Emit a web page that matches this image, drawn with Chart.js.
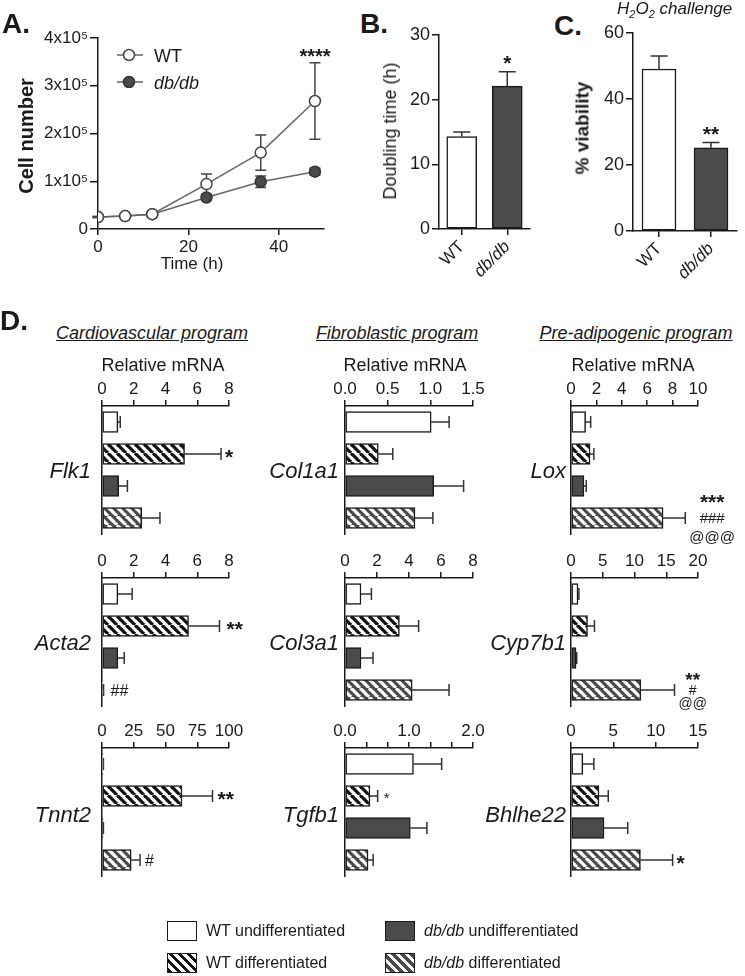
<!DOCTYPE html>
<html>
<head>
<meta charset="utf-8">
<script src="https://cdn.jsdelivr.net/npm/chart.js@4.4.1/dist/chart.umd.min.js"></script>
<style>
  body { margin: 0; background: #fff; }
  #fig { position: relative; width: 745px; height: 976px; overflow: hidden;
         font-family: "Liberation Sans", Arial, sans-serif; color: #1a1a1a; }
  #fig canvas { position: absolute; }
  .t { position: absolute; white-space: nowrap; line-height: 1; }
  .sw { position: absolute; width: 28px; height: 18px; border: 1.5px solid #1a1a1a; }
</style>
</head>
<body>
<div id="fig"></div>
<script>
// Panel A - growth curve
const timeH = [0, 6, 12, 24, 36, 48];
const wtCells = [25000, 27000, 31000, 94000, 160000, 268000];
const wtCellsSem = [1000, 1000, 1000, 21000, 37000, 80000];
const dbCells = [25000, 27000, 31000, 66000, 99000, 120000];
const dbCellsSem = [1000, 1000, 1000, 5000, 12000, 7000];
const wtCellsMarks = [[], [], [], [], [], ['****']];
const timeTicks = [0, 20, 40];
const cellTicks = [0, 100000, 200000, 300000, 400000];
const cellTickLabels = ['0', '1x10⁵', '2x10⁵', '3x10⁵', '4x10⁵'];

// Panel B / C
const genotypes = ['WT', 'db/db'];
const doublingTime = [14.3, 22.1];
const doublingSem = [0.7, 2.2];
const doublingMarks = [[], ['*']];
const doublingTicks = [0, 10, 20, 30];
const viability = [49.1, 25.2];
const viabilitySem = [3.9, 1.6];
const viabilityMarks = [[], ['**']];
const viabilityTicks = [0, 20, 40, 60];

// Panel D - relative mRNA, order = conditions
const conditions = ['WT undifferentiated', 'WT differentiated', 'db/db undifferentiated', 'db/db differentiated'];
const flk1 = [1.0, 5.2, 1.05, 2.5];      const flk1Sem = [0.15, 2.3, 0.55, 1.15];
const acta2 = [1.0, 5.45, 1.0, 0.05];    const acta2Sem = [0.9, 1.95, 0.4, 0.05];
const tnnt2 = [0.8, 63, 0.8, 23];        const tnnt2Sem = [0.3, 24, 0.3, 7];
const col1a1 = [1.01, 0.39, 1.04, 0.82]; const col1a1Sem = [0.21, 0.17, 0.35, 0.21];
const col3a1 = [1.0, 3.4, 1.0, 4.2];     const col3a1Sem = [0.65, 1.2, 0.75, 2.3];
const tgfb1 = [1.07, 0.39, 1.02, 0.36];  const tgfb1Sem = [0.44, 0.12, 0.26, 0.08];
const lox = [1.15, 1.5, 1.02, 7.25];     const loxSem = [0.4, 0.3, 0.18, 1.75];
const cyp7b1 = [1.1, 2.6, 0.8, 11.0];    const cyp7b1Sem = [0.15, 1.1, 0.1, 5.3];
const bhlhe22 = [1.4, 3.3, 3.9, 8.2];    const bhlhe22Sem = [1.3, 1.1, 2.8, 3.8];

const flk1Marks = [[], ['*'], [], []];
const acta2Marks = [[], ['**'], [], ['##']];
const tnnt2Marks = [[], ['**'], [], ['#']];
const tgfb1Marks = [[], ['*'], [], []];
const loxMarks = [[], [], [], ['***', '###', '@@@']];
const cyp7b1Marks = [[], [], [], ['**', '#', '@@']];
const bhlhe22Marks = [[], [], [], ['*']];
const noMarks = [[], [], [], []];

const cardioTicks = [0, 2, 4, 6, 8];
const cardioTickLabels = ['0', '2', '4', '6', '8'];
const tnnt2Ticks = [0, 25, 50, 75, 100];
const tnnt2TickLabels = ['0', '25', '50', '75', '100'];
const col1a1Ticks = [0, 0.5, 1, 1.5];
const col1a1TickLabels = ['0.0', '0.5', '1.0', '1.5'];
const tgfb1Ticks = [0, 1 / 3, 2 / 3, 1, 4 / 3, 5 / 3, 2];
const tgfb1TickLabels = ['0.0', '', '', '1.0', '', '', '2.0'];
const loxTicks = [0, 2, 4, 6, 8, 10];
const loxTickLabels = ['0', '2', '4', '6', '8', '10'];
const cyp7b1Ticks = [0, 5, 10, 15, 20];
const cyp7b1TickLabels = ['0', '5', '10', '15', '20'];
const bhlhe22Ticks = [0, 5, 10, 15];
const bhlhe22TickLabels = ['0', '5', '10', '15'];


const NARROW = '"Liberation Sans Narrow", "Liberation Sans", Arial, sans-serif';
const SANS = '"Liberation Sans", Arial, sans-serif';
const INK = '#1a1a1a';
const DARK = '#4b4b4b';
const fig = document.getElementById('fig');
Chart.defaults.font.family = SANS;
Chart.defaults.color = INK;

function addCanvas(left, top, w, h) {
    const c = document.createElement('canvas');
    c.width = w; c.height = h;
    c.style.left = left + 'px'; c.style.top = top + 'px';
    c.style.width = w + 'px'; c.style.height = h + 'px';
    fig.appendChild(c);
    return c;
}

// anchor: 'c' centre, 'r' right edge, 'l' left edge (all vertically centred)
function text(html, x, y, css, anchor, rot) {
    const d = document.createElement('div');
    d.className = 't';
    d.innerHTML = html;
    d.style.cssText += css || '';
    d.style.left = x + 'px'; d.style.top = y + 'px';
    const tx = anchor === 'r' ? '-100%' : anchor === 'l' ? '0' : '-50%';
    d.style.transform = 'translate(' + tx + ',-50%)' + (rot ? ' rotate(' + rot + 'deg)' : '');
    fig.appendChild(d);
    return d;
}

function hatch(bg, fg) {
    const p = 9, c = document.createElement('canvas');
    c.width = p; c.height = p;
    const g = c.getContext('2d');
    g.fillStyle = bg; g.fillRect(0, 0, p, p);
    g.strokeStyle = fg; g.lineWidth = 3.3;
    [-p, 0, p].forEach(k => { g.beginPath(); g.moveTo(k, 0); g.lineTo(k + p, p); g.stroke(); });
    return g.createPattern(c, 'repeat');
}
const barFills = ['#ffffff', hatch('#ffffff', '#111111'), DARK, hatch(DARK, '#ffffff')];

// error bars (upper side only unless opts.both)
const errorBars = {
    id: 'errorBars',
    beforeDatasetsDraw(chart, args, opts) {
        const ctx = chart.ctx, horiz = chart.options.indexAxis === 'y';
        const vScale = horiz ? chart.scales.x : chart.scales.y;
        chart.data.datasets.forEach((ds, di) => {
            if (!ds.sem) return;
            const meta = chart.getDatasetMeta(di);
            ctx.save();
            ctx.strokeStyle = opts.color || '#333';
            ctx.lineWidth = opts.width || 1.5;
            meta.data.forEach((el, i) => {
                const d = ds.data[i], v = typeof d === 'object' ? d.y : d, e = ds.sem[i];
                const hi = vScale.getPixelForValue(v + e);
                const lo = vScale.getPixelForValue(opts.both ? v - e : v);
                const c = opts.cap / 2;
                ctx.beginPath();
                if (horiz) {
                    ctx.moveTo(lo, el.y); ctx.lineTo(hi, el.y);
                    ctx.moveTo(hi, el.y - c); ctx.lineTo(hi, el.y + c);
                } else {
                    ctx.moveTo(el.x, lo); ctx.lineTo(el.x, hi);
                    ctx.moveTo(el.x - c, hi); ctx.lineTo(el.x + c, hi);
                    if (opts.both) { ctx.moveTo(el.x - c, lo); ctx.lineTo(el.x + c, lo); }
                }
                ctx.stroke();
            });
            ctx.restore();
        });
    }
};

// significance symbols next to / above the error bars
const sigMarks = {
    id: 'sigMarks',
    afterDatasetsDraw(chart, args, opts) {
        const ctx = chart.ctx, horiz = chart.options.indexAxis === 'y';
        const vScale = horiz ? chart.scales.x : chart.scales.y;
        chart.data.datasets.forEach((ds, di) => {
            if (!ds.marks) return;
            const meta = chart.getDatasetMeta(di);
            meta.data.forEach((el, i) => {
                const lines = ds.marks[i];
                if (!lines || !lines.length) return;
                const d = ds.data[i], v = typeof d === 'object' ? d.y : d;
                const end = vScale.getPixelForValue(v + (ds.sem ? ds.sem[i] : 0));
                const fonts = lines.map(s => /^\*+$/.test(s) ? opts.starFont : opts.otherFont);
                ctx.save();
                ctx.fillStyle = INK; ctx.textAlign = 'center'; ctx.textBaseline = 'alphabetic';
                let maxW = 0;
                lines.forEach((s, k) => { ctx.font = fonts[k]; maxW = Math.max(maxW, ctx.measureText(s).width); });
                lines.forEach((s, k) => {
                    ctx.font = fonts[k];
                    const m = ctx.measureText(s);
                    const off = (m.actualBoundingBoxAscent - m.actualBoundingBoxDescent) / 2;
                    let x, y;
                    if (horiz) {
                        x = end + opts.gap + maxW / 2;
                        y = el.y + (k - (lines.length - 1) / 2) * opts.lineGap;
                    } else {
                        x = el.x; y = end - opts.gap;
                    }
                    ctx.fillText(s, x, y + off);
                });
                ctx.restore();
            });
        });
    }
};

const tickFont = { family: NARROW, size: 17 };

// ---------- A. ----------
const pts = arr => arr.map((v, i) => ({ x: timeH[i], y: v }));
new Chart(addCanvas(20, 20, 330, 240), {
    type: 'line',
    data: {
        datasets: [
            { label: 'WT', data: pts(wtCells), sem: wtCellsSem, marks: wtCellsMarks,
              borderColor: '#666', borderWidth: 1.5, tension: 0,
              pointRadius: 5.5, pointBackgroundColor: '#fff', pointBorderColor: '#444', pointBorderWidth: 1.5 },
            { label: 'db/db', data: pts(dbCells), sem: dbCellsSem,
              borderColor: '#666', borderWidth: 1.5, tension: 0,
              pointRadius: 5.5, pointBackgroundColor: DARK, pointBorderColor: '#333', pointBorderWidth: 1.5 }
        ]
    },
    options: {
        responsive: false, animation: false,
        layout: { autoPadding: false, padding: { left: 18, right: 26, top: 18, bottom: 5 } },
        plugins: { legend: { display: false }, tooltip: { enabled: false },
                   errorBars: { cap: 11, both: true, color: '#444' },
                   sigMarks: { starFont: 'bold 20px ' + SANS, gap: 10 } },
        scales: {
            x: { type: 'linear', min: 0, max: 50,
                 afterBuildTicks: s => { s.ticks = timeTicks.map(v => ({ value: v })); },
                 afterFit: s => { s.height = 26; },
                 grid: { drawOnChartArea: false, tickLength: 6, color: INK, lineWidth: 1.5 },
                 border: { color: INK, width: 1.5 },
                 ticks: { font: tickFont, color: INK, padding: 2, maxRotation: 0 } },
            y: { min: 0, max: 400000,
                 afterBuildTicks: s => { s.ticks = cellTicks.map(v => ({ value: v })); },
                 afterFit: s => { s.width = 60; },
                 grid: { drawOnChartArea: false, tickLength: 8, color: INK, lineWidth: 1.5 },
                 border: { color: INK, width: 1.5 },
                 ticks: { font: tickFont, color: INK, padding: 2, callback: (v, i) => cellTickLabels[i] } }
        }
    },
    plugins: [errorBars, sigMarks]
});

// ---------- B. / C. ----------
function genoBars(left, width, yw, pad, plotH, max, values, sem, marks, ticks, barW) {
    const c = addCanvas(left, 20, width, pad.top + plotH + 62);
    new Chart(c, {
        type: 'bar',
        data: { labels: genotypes,
                datasets: [{ data: values, sem: sem, marks: marks, backgroundColor: ['#fff', DARK],
                             borderColor: INK, borderWidth: 1.5, borderSkipped: false, barThickness: barW }] },
        options: {
            responsive: false, animation: false,
            layout: { autoPadding: false, padding: { left: pad.left, right: pad.right, top: pad.top, bottom: 2 } },
            plugins: { legend: { display: false }, tooltip: { enabled: false },
                       errorBars: { cap: 17, color: '#333' },
                       sigMarks: { starFont: 'bold 21px ' + SANS, gap: 12 } },
            scales: {
                x: { afterFit: s => { s.height = 60; },
                     grid: { offset: false, drawOnChartArea: false, tickLength: 6, color: INK, lineWidth: 1.5 },
                     border: { color: INK, width: 1.5 },
                     ticks: { color: INK, padding: 2, minRotation: 45, maxRotation: 45,
                              font: ctx => ({ family: NARROW, size: 17, style: ctx.index === 1 ? 'italic' : 'normal' }) } },
                y: { min: 0, max: max,
                     afterBuildTicks: s => { s.ticks = ticks.map(v => ({ value: v })); },
                     afterFit: s => { s.width = yw; },
                     grid: { drawOnChartArea: false, tickLength: 7, color: INK, lineWidth: 1.5 },
                     border: { color: INK, width: 1.5 },
                     ticks: { font: { family: NARROW, size: 18 }, color: INK, padding: 2 } }
            }
        },
        plugins: [errorBars, sigMarks]
    });
}
genoBars(395, 150, 40, { left: 4, right: 15, top: 15 }, 194, 30, doublingTime, doublingSem, doublingMarks, doublingTicks, 30);
genoBars(590, 155, 40, { left: 3, right: 8, top: 13 }, 198, 60, viability, viabilitySem, viabilityMarks, viabilityTicks, 34);

// ---------- D. ----------
function geneChart(zero, plotW, axisY, values, sem, marks, ticks, tickLabels, markOpts) {
    const c = addCanvas(zero - 12, axisY - 34, 12 + plotW + 52, 34 + 128 + 18);
    new Chart(c, {
        type: 'bar',
        data: { labels: conditions,
                datasets: [{ data: values, sem: sem, marks: marks, backgroundColor: barFills,
                             borderColor: INK, borderWidth: 1.5, borderSkipped: false, barThickness: 21 }] },
        options: {
            indexAxis: 'y', responsive: false, animation: false,
            layout: { autoPadding: false, padding: { left: 12, right: 52, top: 0, bottom: 18 } },
            plugins: { legend: { display: false }, tooltip: { enabled: false },
                       errorBars: { cap: 12, color: '#333' },
                       sigMarks: Object.assign({ starFont: 'bold 21px ' + SANS, otherFont: '15px ' + SANS,
                                                 gap: 4, lineGap: 18 }, markOpts || {}) },
            scales: {
                x: { position: 'top', min: 0, max: ticks[ticks.length - 1],
                     afterBuildTicks: s => { s.ticks = ticks.map(v => ({ value: v })); },
                     afterFit: s => { s.height = 34; },
                     grid: { drawOnChartArea: false, tickLength: 6, color: INK, lineWidth: 1.5 },
                     border: { color: INK, width: 1.5 },
                     ticks: { font: tickFont, color: INK, padding: 0, maxRotation: 0, autoSkip: false,
                              callback: (v, i) => tickLabels[i] } },
                y: { afterFit: s => { s.width = 0; },
                     ticks: { display: false }, grid: { display: false },
                     border: { color: INK, width: 1.5 } }
            }
        },
        plugins: [errorBars, sigMarks]
    });
}
const rowY = [406, 578, 748];
geneChart(102, 127, rowY[0], flk1, flk1Sem, flk1Marks, cardioTicks, cardioTickLabels);
geneChart(102, 127, rowY[1], acta2, acta2Sem, acta2Marks, cardioTicks, cardioTickLabels, { gap: 7, otherFont: '16px ' + SANS });
geneChart(102, 127, rowY[2], tnnt2, tnnt2Sem, tnnt2Marks, tnnt2Ticks, tnnt2TickLabels, { gap: 5, otherFont: '16px ' + SANS });
geneChart(345, 128, rowY[0], col1a1, col1a1Sem, noMarks, col1a1Ticks, col1a1TickLabels);
geneChart(345, 128, rowY[1], col3a1, col3a1Sem, noMarks, cardioTicks, cardioTickLabels);
geneChart(345, 128, rowY[2], tgfb1, tgfb1Sem, tgfb1Marks, tgfb1Ticks, tgfb1TickLabels, { starFont: '15px ' + SANS, gap: 6 });
geneChart(571, 127, rowY[0], lox, loxSem, loxMarks, loxTicks, loxTickLabels, { lineGap: 19 });
geneChart(571, 127, rowY[1], cyp7b1, cyp7b1Sem, cyp7b1Marks, cyp7b1Ticks, cyp7b1TickLabels, { lineGap: 13.5, otherFont: '14px ' + SANS, starFont: 'bold 19px ' + SANS });
geneChart(571, 127, rowY[2], bhlhe22, bhlhe22Sem, bhlhe22Marks, bhlhe22Ticks, bhlhe22TickLabels);

// ---------- texts ----------
text('A.', 2, 24, 'font-weight:bold;font-size:28px;', 'l');
text('Cell number', 26, 136, 'font-weight:bold;font-size:20px;', 'c', -90);
text('Time (h)', 192, 263, 'font-size:17px;', 'c');
text('WT', 154, 56, 'font-size:18px;', 'l');
text('<i>db/db</i>', 154, 83, 'font-size:18px;', 'l');
const leg = document.createElementNS('http://www.w3.org/2000/svg', 'svg');
leg.setAttribute('width', '30'); leg.setAttribute('height', '44');
leg.style.cssText = 'position:absolute;left:115px;top:44px;';
leg.innerHTML = '<line x1="2" y1="11" x2="28" y2="11" stroke="#666" stroke-width="1.5"/>' +
    '<circle cx="14" cy="11" r="5.5" fill="#fff" stroke="#444" stroke-width="1.5"/>' +
    '<line x1="2" y1="38" x2="28" y2="38" stroke="#666" stroke-width="1.5"/>' +
    '<circle cx="14" cy="38" r="5.5" fill="' + DARK + '" stroke="#333" stroke-width="1.5"/>';
fig.appendChild(leg);

text('B.', 360, 24, 'font-weight:bold;font-size:28px;', 'l');
text('Doubling time (h)', 390, 131, 'font-size:18px;', 'c', -90);
text('C.', 554, 26, 'font-weight:bold;font-size:28px;', 'l');
text('% viability', 582, 128, 'font-weight:bold;font-size:19px;', 'c', -90);
text('<i>H<sub style="font-size:11px">2</sub>O<sub style="font-size:11px">2</sub> challenge</i>', 617, 10, 'font-size:17px;', 'l');

text('D.', 0, 321, 'font-weight:bold;font-size:28px;', 'l');
text('<i><u>Cardiovascular program</u></i>', 152, 333, 'font-size:18px;', 'c');
text('<i><u>Fibroblastic program</u></i>', 397, 333, 'font-size:18px;letter-spacing:-0.1px;', 'c');
text('<i><u>Pre-adipogenic program</u></i>', 636, 333, 'font-size:18px;', 'c');
text('Relative mRNA', 163, 365, 'font-size:18px;', 'c');
text('Relative mRNA', 405, 365, 'font-size:18px;', 'c');
text('Relative mRNA', 633, 365, 'font-size:18px;', 'c');

const geneNames = [['Flk1', 'Acta2', 'Tnnt2'], ['Col1a1', 'Col3a1', 'Tgfb1'], ['Lox', 'Cyp7b1', 'Bhlhe22']];
const geneRight = [91, 339, 566];
const geneY = [471, 643, 815];
geneNames.forEach((col, ci) => col.forEach((g, ri) => {
    text('<i>' + g + '</i>', geneRight[ci], geneY[ri], 'font-size:22px;', 'r');
}));

// legend
const legItems = [
    { x: 167, y: 921, fill: 'background:#fff;', lab: 'WT undifferentiated' },
    { x: 385, y: 921, fill: 'background:' + DARK + ';', lab: '<i>db/db</i> undifferentiated' },
    { x: 167, y: 953, fill: 'background:repeating-linear-gradient(45deg,#111 0 3.2px,#fff 3.2px 6.4px);', lab: 'WT differentiated' },
    { x: 385, y: 953, fill: 'background:repeating-linear-gradient(45deg,#fff 0 3.2px,' + DARK + ' 3.2px 6.4px);', lab: '<i>db/db</i> differentiated' }
];
legItems.forEach(it => {
    const b = document.createElement('div');
    b.className = 'sw';
    b.style.cssText += it.fill + 'left:' + it.x + 'px;top:' + it.y + 'px;';
    fig.appendChild(b);
    text(it.lab, it.x + 39, it.y + 10, 'font-size:16px;', 'l');
});
</script>
</body>
</html>
